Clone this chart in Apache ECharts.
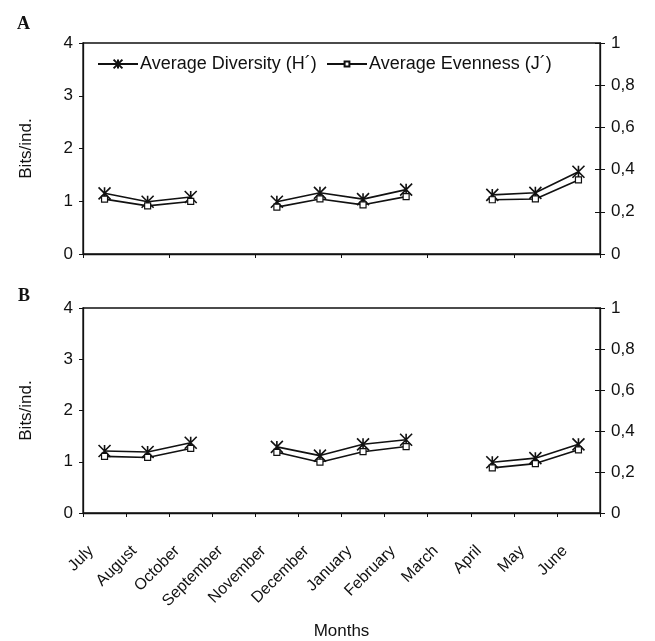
<!DOCTYPE html>
<html>
<head>
<meta charset="utf-8">
<script src="https://cdn.jsdelivr.net/npm/echarts@6/dist/echarts.min.js"></script>
<style>
  html, body { margin: 0; padding: 0; background: #fff; }
  #chart { width: 655px; height: 641px; }
</style>
</head>
<body>
<div id="chart"></div>
<script>
// Sampling months (September and March were not sampled)
const months = ['July', 'August', 'October', 'September', 'November', 'December',
                'January', 'February', 'March', 'April', 'May', 'June'];

// Panel A
const diversityA = [1.15, 0.99, 1.08, null, 0.99, 1.16, 1.04, 1.22, null, 1.12, 1.16, 1.56];
const evennessA  = [0.26, 0.228, 0.249, null, 0.222, 0.261, 0.233, 0.272, null, 0.257, 0.261, 0.351];

// Panel B
const diversityB = [1.21, 1.19, 1.37, null, 1.29, 1.12, 1.34, 1.43, null, 0.99, 1.07, 1.34];
const evennessB  = [0.276, 0.271, 0.315, null, 0.296, 0.248, 0.299, 0.324, null, 0.22, 0.241, 0.308];

const leftMax = 4, leftInterval = 1;
const rightMax = 1, rightInterval = 0.2;

const nameH = 'Average Diversity (H\u00b4)';
const nameJ = 'Average Evenness (J\u00b4)';

const ink = '#111';
const font = 'Liberation Sans, Arial, sans-serif';
const star = 'path://M0,-1L0,1M-1,-1L1,1M-1,1L1,-1';

const chart = echarts.init(document.getElementById('chart'), null, { renderer: 'canvas' });

const grids = [
  { left: 83, right: 55, top: 43, height: 211 },
  { left: 83, right: 55, top: 308, height: 212 }
];

function xAxisFor(i, withLabels) {
  return {
    type: 'category', gridIndex: i, data: months, boundaryGap: true,
    axisLine: { lineStyle: { color: ink, width: 1.3 } },
    axisTick: { show: true, length: 4, lineStyle: { color: ink } },
    axisLabel: withLabels ? {
      show: true, rotate: 45, margin: 22, interval: 0,
      color: ink, fontFamily: font, fontSize: 16, padding: [0, 19, 0, 0]
    } : { show: false },
    name: withLabels ? 'Months' : '',
    nameLocation: 'middle', nameGap: 110,
    nameTextStyle: { color: ink, fontFamily: font, fontSize: 17 },
    splitLine: { show: false }
  };
}

function yAxesFor(i) {
  return [
    {
      type: 'value', gridIndex: i, position: 'left', min: 0, max: leftMax, interval: leftInterval,
      name: 'Bits/ind.', nameLocation: 'middle', nameRotate: 90, nameGap: 48,
      nameTextStyle: { color: ink, fontFamily: font, fontSize: 17 },
      axisLine: { show: true, lineStyle: { color: ink, width: 1.3 } },
      axisTick: { show: true, length: 4, lineStyle: { color: ink } },
      axisLabel: { color: ink, fontFamily: font, fontSize: 17, margin: 10 },
      splitLine: { show: false }
    },
    {
      type: 'value', gridIndex: i, position: 'right', min: 0, max: rightMax, interval: rightInterval,
      axisLine: { show: true, lineStyle: { color: ink, width: 1.3 } },
      axisTick: { show: true, length: 5, lineStyle: { color: ink } },
      axisLabel: {
        color: ink, fontFamily: font, fontSize: 17, margin: 11,
        formatter: v => String(+v.toFixed(1)).replace('.', ',')
      },
      splitLine: { show: false }
    },
    {
      // inner half of the crossing ticks on the right axis
      type: 'value', gridIndex: i, position: 'right', min: 0, max: rightMax, interval: rightInterval,
      axisLine: { show: false },
      axisTick: { show: true, inside: true, length: 5, lineStyle: { color: ink } },
      axisLabel: { show: false },
      splitLine: { show: false }
    }
  ];
}

function seriesFor(i, div, even) {
  return [
    {
      name: nameH, type: 'line',
      xAxisIndex: i, yAxisIndex: i * 3, data: div,
      symbol: star, symbolSize: 12,
      lineStyle: { color: ink, width: 1.6 },
      itemStyle: { color: 'rgba(0,0,0,0)', borderColor: ink, borderWidth: 1.6 },
      connectNulls: false, animation: false, z: 3
    },
    {
      name: nameJ, type: 'line',
      xAxisIndex: i, yAxisIndex: i * 3 + 1, data: even,
      symbol: 'rect', symbolSize: 6,
      lineStyle: { color: ink, width: 1.6 },
      itemStyle: { color: '#fff', borderColor: ink, borderWidth: 1.2 },
      connectNulls: false, animation: false, z: 4
    }
  ];
}

const legendText = { color: ink, fontFamily: font, fontSize: 18, padding: [0, 0, 0, -3] };

chart.setOption({
  backgroundColor: '#fff',
  animation: false,
  title: [
    { text: 'A', left: 12, top: 10, textStyle: { fontFamily: 'Liberation Serif, Times New Roman, serif', fontWeight: 'bold', fontSize: 18, color: ink } },
    { text: 'B', left: 13, top: 282, textStyle: { fontFamily: 'Liberation Serif, Times New Roman, serif', fontWeight: 'bold', fontSize: 18, color: ink } }
  ],
  legend: [
    { left: 92, top: 50, itemWidth: 40, itemHeight: 11, textStyle: legendText, data: [nameH] },
    { left: 321, top: 50, itemWidth: 40, itemHeight: 6, textStyle: legendText, data: [nameJ] }
  ],
  grid: grids.map(g => Object.assign({ show: true, borderColor: ink, borderWidth: 1.3, backgroundColor: 'transparent' }, g)),
  xAxis: [xAxisFor(0, false), xAxisFor(1, true)],
  yAxis: yAxesFor(0).concat(yAxesFor(1)),
  series: seriesFor(0, diversityA, evennessA).concat(seriesFor(1, diversityB, evennessB))
});
</script>
</body>
</html>
